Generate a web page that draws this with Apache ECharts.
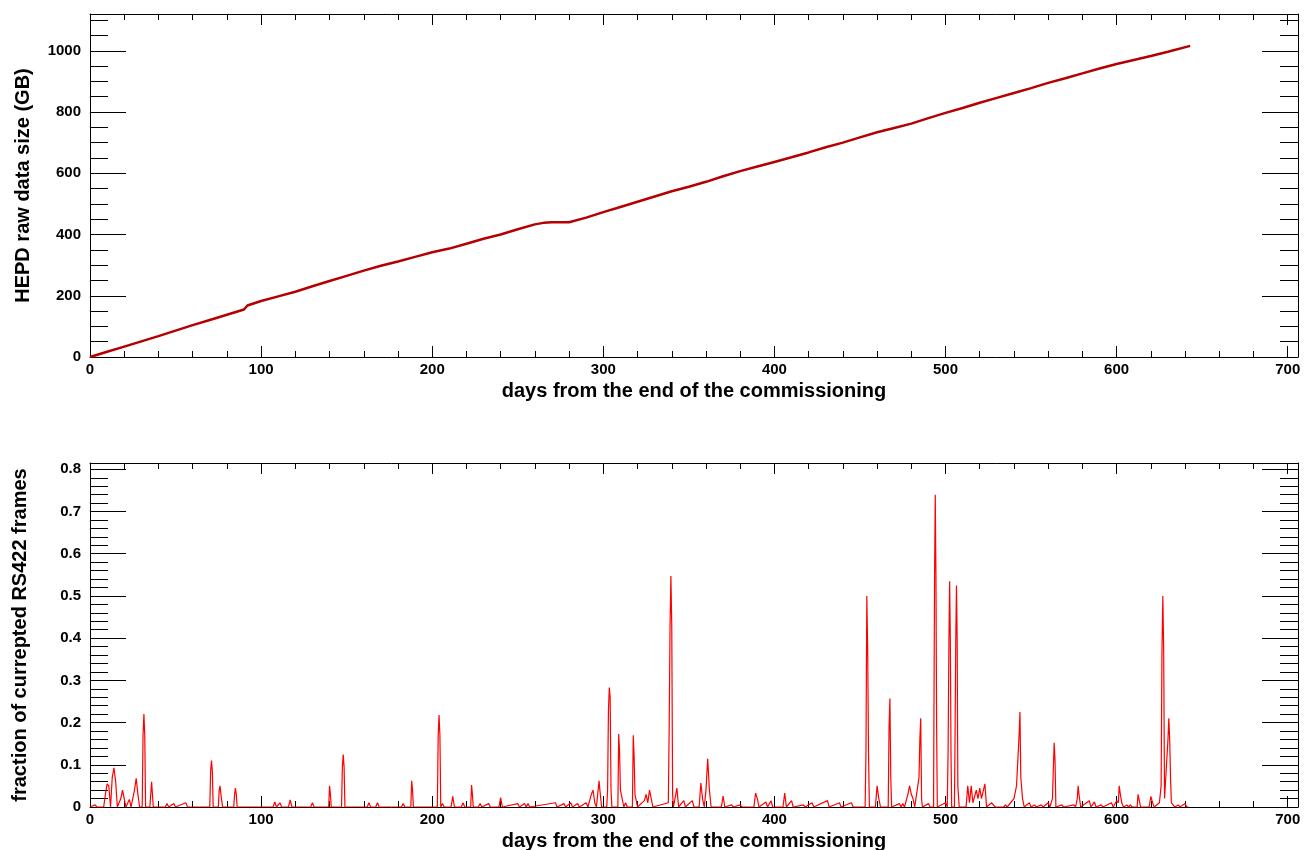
<!DOCTYPE html>
<html>
<head>
<meta charset="utf-8">
<title>HEPD raw data size and corrupted RS422 frames</title>
<script src="https://cdn.jsdelivr.net/npm/echarts@6/dist/echarts.min.js"></script>
<style>
  html, body { margin: 0; padding: 0; background: #fff; }
  #chart { width: 1308px; height: 850px; }
</style>
</head>
<body>
<div id="chart"></div>
<script>
// top panel: cumulative raw data size (GB)
const sizeDays = [0, 10, 20, 30, 40, 50, 60, 70, 80, 90, 92, 100, 110, 120, 130, 140, 150, 160, 170, 180,
  190, 200, 210, 220, 230, 240, 250, 260, 265, 270, 280, 290, 300, 310, 320, 330, 340, 350, 360, 370,
  380, 390, 400, 410, 420, 430, 440, 450, 460, 470, 480, 490, 500, 510, 520, 530, 540, 550, 560, 570,
  580, 590, 600, 610, 620, 630, 643]
const sizeGB = [0, 17, 34, 51, 68, 86, 104, 121, 138, 155, 168, 183, 198, 213, 231, 248, 265, 282, 298, 312,
  327, 342, 354, 370, 386, 400, 417, 433, 438, 440, 440, 455, 473, 490, 507, 524, 541, 556, 572, 590,
  607, 622, 637, 652, 668, 685, 700, 717, 734, 748, 762, 780, 797, 813, 830, 846, 862, 878, 895, 910,
  926, 942, 957, 970, 983, 997, 1016]

// bottom panel: fraction of corrupted frames, spikes over a zero baseline
const fracDays = [
  0, 3, 4, 6, 7, 8,
  9, 10, 11, 12, 13, 14, 15, 16, 18, 19, 20, 21, 22, 23, 24,
  26, 27, 28, 29, 30.5, 31, 31.5, 32, 32.5, 35, 36, 37,
  44, 45, 46, 49, 50, 56, 57, 58,
  70, 70.5, 71, 71.5, 72, 75, 75.5, 76, 76.5, 77.5, 84, 84.5, 85, 85.5, 86,
  107, 108, 109, 111, 112, 116, 117, 118, 129, 130, 131,
  139.5, 140, 140.5, 141, 147, 147.5, 148, 148.5, 149, 162, 163, 164, 167, 168, 169,
  182, 183, 184, 187.5, 188, 188.5, 189, 203, 203.5, 204, 204.5, 205, 206, 207,
  211, 212, 213, 217, 218, 219, 222.5, 223, 223.5, 224, 227, 228, 229, 233, 234,
  239, 240, 241, 250, 251, 254, 255, 256, 257, 272, 273, 277, 278, 281, 282, 285, 286,
  290, 291, 293, 294, 295, 296, 297.5, 298, 299, 302, 302.5, 303, 303.5, 304, 304.5, 305,
  308.5, 309, 309.5, 310, 311, 312, 313, 314, 317, 317.5, 318, 318.5, 319, 320,
  324, 325, 326, 327, 328, 329, 338, 338.5, 339, 339.5, 340, 340.5, 341, 343, 344,
  347, 348, 352, 353, 356, 357, 358, 359, 360, 361, 361.5, 362, 363,
  369, 370, 371, 375, 376, 380, 381, 388, 389, 390, 391, 395, 396, 398, 399,
  405, 406, 407, 410, 411, 417, 418, 422, 423, 431, 432, 438, 439, 445, 446,
  453, 453.5, 454, 454.5, 455, 455.5, 459, 460, 461, 462, 466.5, 467, 467.5, 468, 468.5,
  473, 474, 475, 476, 478, 479, 480, 481, 482, 484.5, 485, 485.5, 486, 486.5, 490, 491,
  493, 493.2, 493.6, 494, 494.4, 494.8, 495.2, 500, 501, 501.5, 502, 502.4, 502.8, 503.2, 503.6,
  505.2, 505.5, 506, 506.4, 506.8, 507.2, 508,
  512, 513, 514, 515, 516, 518, 519, 520, 521, 523, 524, 527, 528, 529,
  534, 535, 536, 540, 541.5, 543, 543.5, 544, 545, 546, 549, 550, 552, 553,
  556, 557, 560, 561, 562.5, 563, 563.5, 564, 564.5, 568, 569,
  575, 576, 577, 577.5, 578, 579, 584, 585, 587, 588, 591, 592,
  597, 598, 600, 601, 601.5, 602, 603, 604, 606, 607, 608, 609,
  612, 612.5, 613, 614, 619, 620, 621, 622,
  625, 626, 626.5, 627, 627.5, 628, 629, 630, 630.5, 631, 631.5, 632,
  633, 634, 636, 637, 640, 641, 642
]
const fracVals = [
  0, 0.005, 0, 0, 0.004, 0,
  0.03, 0.055, 0.05, 0, 0.07, 0.093, 0.06, 0, 0.02, 0.04, 0.02, 0, 0, 0.018, 0,
  0.04, 0.068, 0.03, 0, 0, 0.17, 0.22, 0.17, 0, 0, 0.06, 0,
  0, 0.008, 0, 0.008, 0, 0.01, 0, 0,
  0, 0.085, 0.11, 0.085, 0, 0, 0.04, 0.05, 0.03, 0, 0, 0.03, 0.045, 0.03, 0,
  0, 0.012, 0, 0.01, 0, 0, 0.017, 0, 0, 0.01, 0,
  0, 0.05, 0.03, 0, 0, 0.095, 0.124, 0.095, 0, 0, 0.01, 0, 0, 0.01, 0,
  0, 0.008, 0, 0, 0.062, 0.04, 0, 0, 0.17, 0.218, 0.17, 0, 0.008, 0,
  0, 0.025, 0, 0, 0.01, 0, 0, 0.052, 0.03, 0, 0, 0.008, 0, 0.008, 0,
  0, 0.022, 0, 0.008, 0, 0.008, 0, 0.008, 0, 0.01, 0, 0.008, 0, 0.01, 0, 0.008, 0,
  0.01, 0, 0.03, 0.04, 0.01, 0, 0.062, 0.04, 0, 0, 0.04, 0.23, 0.283, 0.26, 0.04, 0,
  0, 0.173, 0.13, 0.04, 0.02, 0, 0.01, 0, 0, 0.17, 0.12, 0.03, 0.03, 0,
  0.015, 0.03, 0.01, 0.04, 0.02, 0, 0.01, 0.19, 0.43, 0.547, 0.43, 0.03, 0, 0.045, 0,
  0.015, 0, 0.015, 0, 0, 0.057, 0.02, 0, 0.04, 0.114, 0.08, 0.04, 0,
  0, 0.026, 0, 0.005, 0, 0.005, 0, 0, 0.033, 0.02, 0, 0.012, 0, 0.015, 0,
  0, 0.033, 0, 0.015, 0, 0.005, 0, 0.01, 0, 0.015, 0, 0.01, 0, 0.01, 0,
  0, 0.128, 0.5, 0.375, 0.128, 0, 0, 0.05, 0.02, 0, 0, 0.19, 0.257, 0.07, 0,
  0.008, 0, 0.008, 0, 0.03, 0.05, 0.03, 0.02, 0, 0.07, 0.16, 0.21, 0.02, 0, 0.008, 0,
  0, 0.19, 0.55, 0.74, 0.55, 0.19, 0, 0.01, 0, 0.13, 0.4, 0.535, 0.4, 0.13, 0,
  0, 0.13, 0.4, 0.525, 0.4, 0.05, 0,
  0, 0.05, 0.01, 0.05, 0.01, 0.04, 0.02, 0.045, 0.02, 0.055, 0, 0.01, 0.01, 0,
  0, 0.005, 0, 0.02, 0.05, 0.17, 0.225, 0.07, 0.02, 0, 0.01, 0, 0.005, 0,
  0.005, 0, 0.01, 0, 0.02, 0.09, 0.152, 0.11, 0, 0.005, 0,
  0.005, 0, 0.02, 0.05, 0.03, 0, 0.015, 0, 0.012, 0, 0.005, 0,
  0.01, 0, 0.015, 0.01, 0.05, 0.035, 0.01, 0, 0.005, 0, 0.005, 0,
  0, 0.03, 0.02, 0, 0, 0.025, 0.01, 0,
  0.01, 0.05, 0.37, 0.5, 0.37, 0.02, 0.02, 0.16, 0.21, 0.16, 0.07, 0.01,
  0.005, 0, 0.005, 0, 0.008, 0, 0
]

const xTitle = 'days from the end of the commissioning'
const topTitle = 'HEPD raw data size (GB)'
const bottomTitle = 'fraction of currepted RS422 frames'

const FONT = '"Liberation Sans", Arial, Helvetica, sans-serif'
const black = '#000'

function zip (xs, ys) {
  return xs.map((x, i) => [x, ys[i]])
}

// ROOT-like frame: ticks inside on all four sides
function xAxis (gridIndex, position) {
  let main = position === 'bottom'
  return {
    type: 'value',
    gridIndex: gridIndex,
    position: position,
    min: 0,
    max: 706,
    interval: 100,
    name: main ? xTitle : '',
    nameLocation: 'middle',
    nameGap: 24,
    nameTextStyle: { fontFamily: FONT, fontWeight: 'bold', fontSize: 20, color: black },
    axisLine: { show: true, onZero: false, lineStyle: { color: black, width: 1 } },
    axisTick: { show: true, inside: true, length: 11, lineStyle: { color: black } },
    minorTick: { show: true, splitNumber: 5, length: 6, lineStyle: { color: black } },
    axisLabel: {
      show: main,
      showMaxLabel: false,
      margin: 5,
      fontFamily: FONT,
      fontWeight: 'bold',
      fontSize: 15,
      color: black
    },
    splitLine: { show: false }
  }
}

function yAxis (gridIndex, position, max, interval, minorSplit, title, gap) {
  let main = position === 'left'
  return {
    type: 'value',
    gridIndex: gridIndex,
    position: position,
    min: 0,
    max: max,
    interval: interval,
    name: main ? title : '',
    nameLocation: 'middle',
    nameGap: gap,
    nameTextStyle: { fontFamily: FONT, fontWeight: 'bold', fontSize: 20, color: black },
    axisLine: { show: true, onZero: false, lineStyle: { color: black, width: 1 } },
    axisTick: { show: true, inside: true, length: 36, lineStyle: { color: black } },
    minorTick: { show: true, splitNumber: minorSplit, length: 18, lineStyle: { color: black } },
    axisLabel: {
      show: main,
      showMaxLabel: false,
      margin: 9,
      fontFamily: FONT,
      fontWeight: 'bold',
      fontSize: 15,
      color: black,
      formatter: (v) => String(Math.round(v * 10) / 10)
    },
    splitLine: { show: false }
  }
}

let chart = echarts.init(document.getElementById('chart'))

chart.setOption({
  backgroundColor: '#fff',
  animation: false,
  grid: [
    { left: 90, right: 10, top: 14, height: 343, outerBoundsMode: 'none' },
    { left: 90, right: 10, top: 463, height: 344, outerBoundsMode: 'none' }
  ],
  xAxis: [
    xAxis(0, 'bottom'),
    xAxis(0, 'top'),
    xAxis(1, 'bottom'),
    xAxis(1, 'top')
  ],
  yAxis: [
    yAxis(0, 'left', 1120, 200, 4, topTitle, 57),
    yAxis(0, 'right', 1120, 200, 4, '', 0),
    yAxis(1, 'left', 0.815, 0.1, 5, bottomTitle, 60),
    yAxis(1, 'right', 0.815, 0.1, 5, '', 0)
  ],
  series: [
    {
      type: 'line',
      xAxisIndex: 0,
      yAxisIndex: 0,
      data: zip(sizeDays, sizeGB),
      showSymbol: false,
      lineStyle: { color: '#b40000', width: 2.5 },
      z: 3
    },
    {
      type: 'line',
      xAxisIndex: 2,
      yAxisIndex: 2,
      data: zip(fracDays, fracVals),
      showSymbol: false,
      lineStyle: { color: '#ff0000', width: 1.2 },
      z: 3
    }
  ]
})
</script>
</body>
</html>
